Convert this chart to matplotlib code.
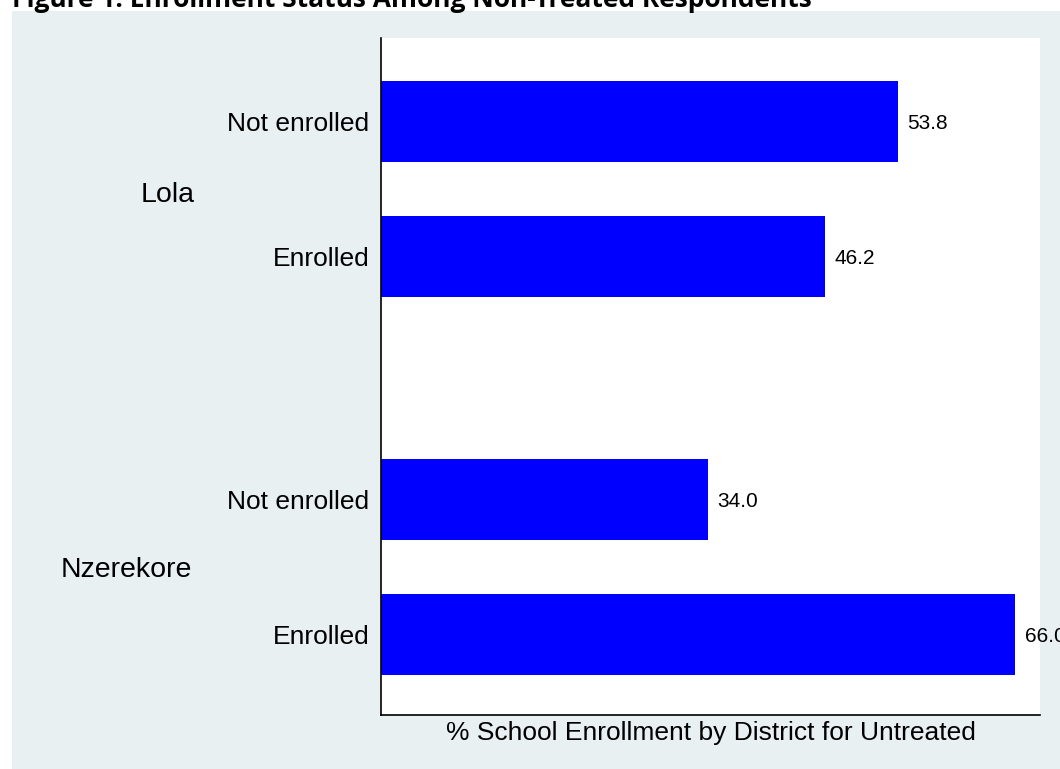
import matplotlib.pyplot as plt
import matplotlib.transforms as mtransforms
from matplotlib.patches import Rectangle

# Data
districts = ['Lola', 'Nzerekore']
categories = ['Not enrolled', 'Enrolled', 'Not enrolled', 'Enrolled']
values = [53.8, 46.2, 34.0, 66.0]
ypos = [0, 1, 2.8, 3.8]
group_ypos = [0.52, 3.3]
group_xfig = [141 / 1060, 61 / 1060]

bg = '#e8f0f2'
plt.rcParams['font.family'] = ['Liberation Sans', 'DejaVu Sans']

fig = plt.figure(figsize=(10.6, 7.69), dpi=100)
fig.patch.set_facecolor('white')
# light panel behind the graph
fig.add_artist(Rectangle((12 / 1060, 0), 1, 1 - 11 / 769, transform=fig.transFigure,
                         facecolor=bg, edgecolor='none', zorder=-10))

ax = fig.add_axes([381 / 1060, 54 / 769, (1040 - 381) / 1060, (715 - 38) / 769])
ax.set_facecolor('white')

ax.barh(ypos, values, height=0.6, color='#0000ff')
ax.set_xlim(0, 68.6)
ax.set_ylim(4.396, -0.619)

for y, v in zip(ypos, values):
    ax.annotate(f'{v:.1f}', xy=(v, y), xytext=(7, 0), textcoords='offset points',
                ha='left', va='center_baseline', fontsize=15, annotation_clip=False)

ax.set_yticks(ypos)
ax.set_yticklabels(categories, fontsize=19, va='center_baseline')
ax.set_xticks([])
ax.tick_params(axis='y', length=0, pad=8.5)

for s in ['top', 'right']:
    ax.spines[s].set_visible(False)
for s in ['left', 'bottom']:
    ax.spines[s].set_linewidth(1.2)
    ax.spines[s].set_color('black')

# district labels
trans = mtransforms.blended_transform_factory(fig.transFigure, ax.transData)
for name, gx, gy in zip(districts, group_xfig, group_ypos):
    ax.text(gx, gy, name, transform=trans, ha='left', va='center_baseline', fontsize=20.5)

ax.set_xlabel('% School Enrollment by District for Untreated', fontsize=19, labelpad=4)

fig.text(12 / 1060, 1 - 7 / 769, 'Figure 1: Enrollment Status Among Non-Treated Respondents',
         fontsize=19, fontweight='bold', family=['Open Sans', 'DejaVu Sans'],
         ha='left', va='baseline')

fig.savefig('out.png', dpi=100, facecolor=fig.get_facecolor())
